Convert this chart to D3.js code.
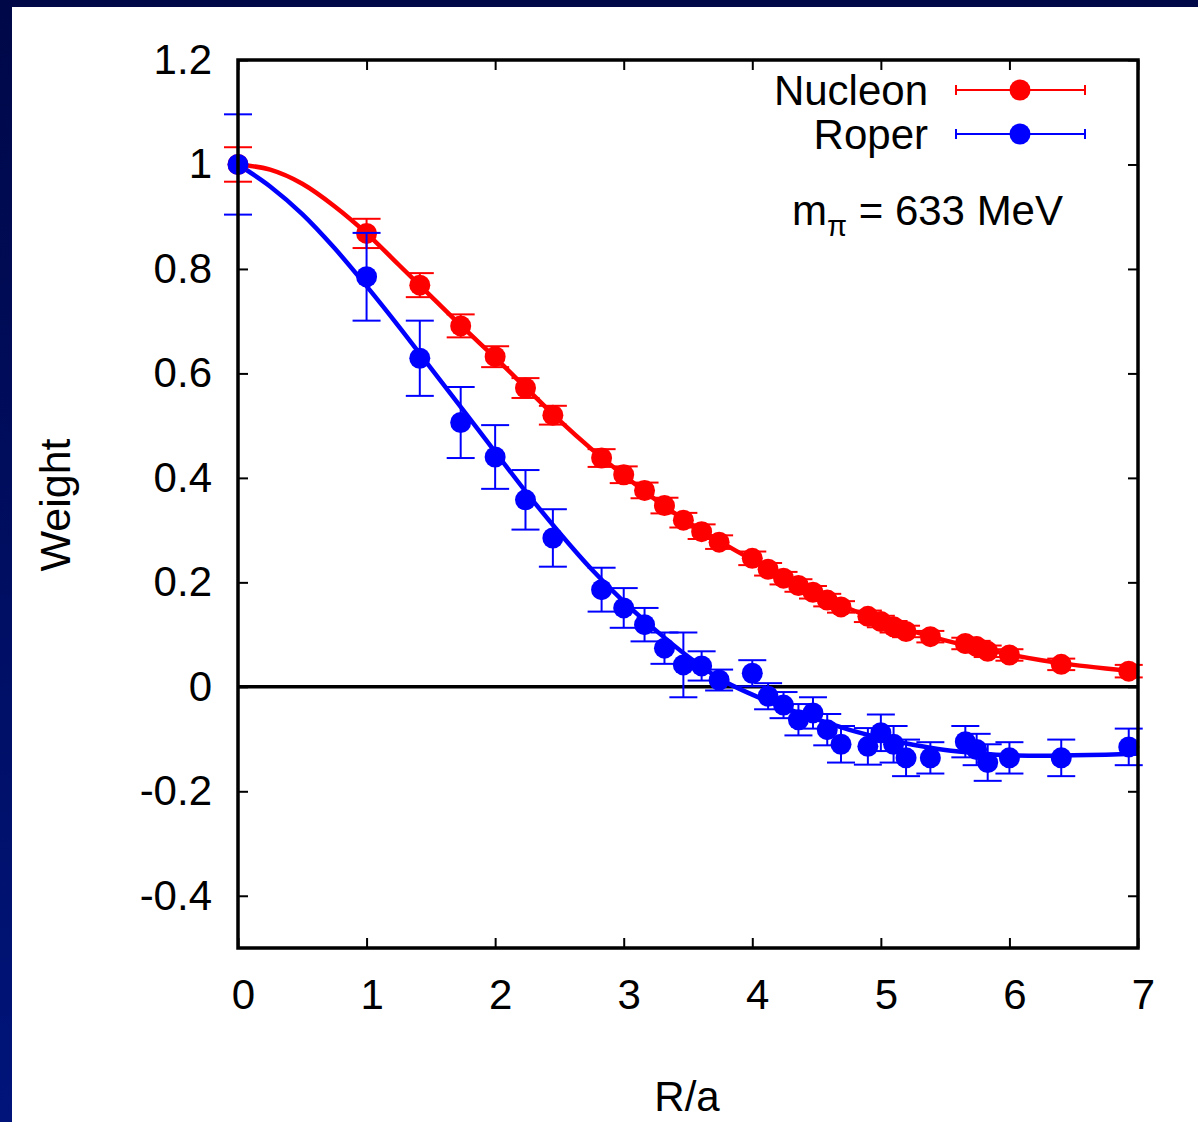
<!DOCTYPE html>
<html>
<head>
<meta charset="utf-8">
<script src="https://cdn.jsdelivr.net/npm/d3@7"></script>
<style>
  html, body { margin: 0; padding: 0; background: #000a4a; }
  svg { display: block; }
  text { font-family: "Liberation Sans", Arial, sans-serif; fill: #000; }
</style>
</head>
<body>
<svg id="chart" width="1198" height="1122"></svg>
<script>
// ---- data ----
const radius = [0, 1, 1.414, 1.732, 2, 2.236, 2.449, 2.828, 3, 3.162, 3.317, 3.464, 3.606, 3.742, 4, 4.123, 4.243, 4.359, 4.472, 4.583, 4.690, 4.899, 5, 5.099, 5.196, 5.385, 5.657, 5.745, 5.831, 6, 6.403, 6.928];
const nucleonWeight = [1.0, 0.868, 0.769, 0.691, 0.632, 0.572, 0.520, 0.438, 0.406, 0.376, 0.347, 0.319, 0.297, 0.277, 0.246, 0.225, 0.208, 0.194, 0.181, 0.166, 0.153, 0.135, 0.125, 0.115, 0.106, 0.096, 0.083, 0.077, 0.068, 0.061, 0.043, 0.030];
const nucleonErr = [0.033, 0.028, 0.023, 0.022, 0.020, 0.019, 0.018, 0.017, 0.016, 0.015, 0.015, 0.014, 0.014, 0.013, 0.013, 0.012, 0.012, 0.012, 0.012, 0.012, 0.011, 0.011, 0.011, 0.011, 0.011, 0.011, 0.011, 0.011, 0.011, 0.011, 0.011, 0.012];
const roperWeight = [1.0, 0.785, 0.629, 0.506, 0.440, 0.358, 0.285, 0.186, 0.151, 0.119, 0.074, 0.042, 0.040, 0.013, 0.026, -0.018, -0.035, -0.063, -0.050, -0.082, -0.110, -0.114, -0.088, -0.110, -0.136, -0.136, -0.105, -0.120, -0.145, -0.136, -0.136, -0.115];
const roperErr = [0.096, 0.084, 0.072, 0.068, 0.061, 0.057, 0.055, 0.042, 0.038, 0.032, 0.030, 0.062, 0.028, 0.020, 0.025, 0.025, 0.025, 0.030, 0.030, 0.030, 0.035, 0.035, 0.035, 0.035, 0.035, 0.030, 0.030, 0.030, 0.035, 0.030, 0.035, 0.035];

// fit curves
const fitR = [0, 0.25, 0.5, 0.75, 1, 1.25, 1.5, 1.75, 2, 2.25, 2.5, 2.75, 3, 3.25, 3.5, 3.75, 4, 4.25, 4.5, 4.75, 5, 5.25, 5.5, 5.75, 6, 6.25, 6.5, 6.75, 7];
const nucleonFit = [1.0, 0.99, 0.963, 0.92, 0.868, 0.808, 0.748, 0.688, 0.630, 0.570, 0.510, 0.455, 0.405, 0.358, 0.315, 0.278, 0.243, 0.210, 0.178, 0.150, 0.126, 0.106, 0.089, 0.075, 0.062, 0.051, 0.042, 0.035, 0.029];
const roperFit = [1.0, 0.958, 0.905, 0.84, 0.767, 0.69, 0.61, 0.53, 0.45, 0.37, 0.295, 0.225, 0.163, 0.108, 0.058, 0.015, -0.015, -0.04, -0.062, -0.082, -0.098, -0.111, -0.121, -0.127, -0.131, -0.132, -0.131, -0.13, -0.128];

const xTicks = [0, 1, 2, 3, 4, 5, 6, 7];
const yTicks = [-0.4, -0.2, 0, 0.2, 0.4, 0.6, 0.8, 1.0, 1.2];
const yTickLabels = ["-0.4", "-0.2", "0", "0.2", "0.4", "0.6", "0.8", "1", "1.2"];
const seriesNames = ["Nucleon", "Roper"];
const seriesColors = ["#ff0000", "#0000ff"];

// ---- layout ----
const svg = d3.select("#chart");
const W = 1198, H = 1122;
const L = 238, R = 1138, T = 60, B = 948;

const defs = svg.append("defs");
const grad = defs.append("linearGradient").attr("id", "bg").attr("x1", 0).attr("y1", 0).attr("x2", 0).attr("y2", 1);
grad.append("stop").attr("offset", "0%").attr("stop-color", "#000848");
grad.append("stop").attr("offset", "100%").attr("stop-color", "#00147a");
svg.append("rect").attr("width", W).attr("height", H).attr("fill", "url(#bg)");
svg.append("rect").attr("x", 12).attr("y", 7).attr("width", W - 12).attr("height", H - 7).attr("fill", "#ffffff");

const x = d3.scaleLinear().domain([0, 7]).range([L, R]);
const y = d3.scaleLinear().domain([-0.5, 1.2]).range([B, T]);

const FS = 42;

// axes
const gL = svg.append("g").attr("transform", `translate(${L},0)`)
  .call(d3.axisLeft(y).tickValues(yTicks).tickFormat((d, i) => yTickLabels[i]).tickSizeInner(-10).tickSizeOuter(0).tickPadding(26));
const gB = svg.append("g").attr("transform", `translate(0,${B})`)
  .call(d3.axisBottom(x).tickValues(xTicks).tickFormat(d3.format("d")).tickSizeInner(-10).tickSizeOuter(0).tickPadding(31));
const gT = svg.append("g").attr("transform", `translate(0,${T})`)
  .call(d3.axisTop(x).tickValues(xTicks).tickFormat("").tickSizeInner(-10).tickSizeOuter(0));
const gR = svg.append("g").attr("transform", `translate(${R},0)`)
  .call(d3.axisRight(y).tickValues(yTicks).tickFormat("").tickSizeInner(-10).tickSizeOuter(0));
[gL, gB, gT, gR].forEach(g => {
  g.select(".domain").remove();
  g.selectAll(".tick line").attr("stroke", "#000").attr("stroke-width", 2);
  g.selectAll(".tick text").attr("font-size", FS).attr("font-family", "Liberation Sans, Arial, sans-serif").attr("fill", "#000");
});
gB.selectAll(".tick text").attr("dx", 5);

// zero line
svg.append("line").attr("x1", L).attr("x2", R).attr("y1", y(0)).attr("y2", y(0))
  .attr("stroke", "#000").attr("stroke-width", 3.5);

// curves
const line = d3.line().x(d => x(d[0])).y(d => y(d[1])).curve(d3.curveMonotoneX);
svg.append("path").datum(fitR.map((r, i) => [r, nucleonFit[i]]))
  .attr("d", line).attr("fill", "none").attr("stroke", seriesColors[0]).attr("stroke-width", 4.5);
svg.append("path").datum(fitR.map((r, i) => [r, roperFit[i]]))
  .attr("d", line).attr("fill", "none").attr("stroke", seriesColors[1]).attr("stroke-width", 4.5);

// points with error bars
function drawSeries(vals, errs, color) {
  const g = svg.append("g");
  const data = radius.map((r, i) => ({ r, v: vals[i], e: errs[i] }));
  const cap = 14;
  g.selectAll("line.eb").data(data).join("line").attr("class", "eb")
    .attr("x1", d => x(d.r)).attr("x2", d => x(d.r))
    .attr("y1", d => y(d.v + d.e)).attr("y2", d => y(d.v - d.e))
    .attr("stroke", color).attr("stroke-width", 2);
  g.selectAll("line.ct").data(data).join("line").attr("class", "ct")
    .attr("x1", d => x(d.r) - cap).attr("x2", d => x(d.r) + cap)
    .attr("y1", d => y(d.v + d.e)).attr("y2", d => y(d.v + d.e))
    .attr("stroke", color).attr("stroke-width", 2);
  g.selectAll("line.cb").data(data).join("line").attr("class", "cb")
    .attr("x1", d => x(d.r) - cap).attr("x2", d => x(d.r) + cap)
    .attr("y1", d => y(d.v - d.e)).attr("y2", d => y(d.v - d.e))
    .attr("stroke", color).attr("stroke-width", 2);
  g.selectAll("circle").data(data).join("circle")
    .attr("cx", d => x(d.r)).attr("cy", d => y(d.v)).attr("r", 10.5)
    .attr("fill", color);
}
drawSeries(nucleonWeight, nucleonErr, seriesColors[0]);
drawSeries(roperWeight, roperErr, seriesColors[1]);

// frame
svg.append("rect").attr("x", L).attr("y", T).attr("width", R - L).attr("height", B - T)
  .attr("fill", "none").attr("stroke", "#000").attr("stroke-width", 3.5);

// legend
const legY = [90, 134];
seriesNames.forEach((name, i) => {
  const ly = legY[i];
  svg.append("text").attr("x", 928).attr("y", ly + 15).attr("text-anchor", "end")
    .attr("font-size", 42).text(name);
  svg.append("line").attr("x1", 956).attr("x2", 1085).attr("y1", ly).attr("y2", ly)
    .attr("stroke", seriesColors[i]).attr("stroke-width", 2);
  [956, 1085].forEach(cx => svg.append("line").attr("x1", cx).attr("x2", cx)
    .attr("y1", ly - 5).attr("y2", ly + 5).attr("stroke", seriesColors[i]).attr("stroke-width", 2));
  svg.append("circle").attr("cx", 1020).attr("cy", ly).attr("r", 10.5).attr("fill", seriesColors[i]);
});

// annotation
const ann = svg.append("text").attr("x", 792).attr("y", 225).attr("font-size", 42);
ann.append("tspan").text("m");
ann.append("tspan").attr("font-size", 29).attr("dy", 11).text("π");
ann.append("tspan").attr("dy", -11).text(" = 633 MeV");

// axis titles
svg.append("text").attr("transform", "translate(70,505) rotate(-90)")
  .attr("text-anchor", "middle").attr("font-size", 43).text("Weight");
svg.append("text").attr("x", 687).attr("y", 1111).attr("text-anchor", "middle")
  .attr("font-size", 42).text("R/a");
</script>
</body>
</html>
